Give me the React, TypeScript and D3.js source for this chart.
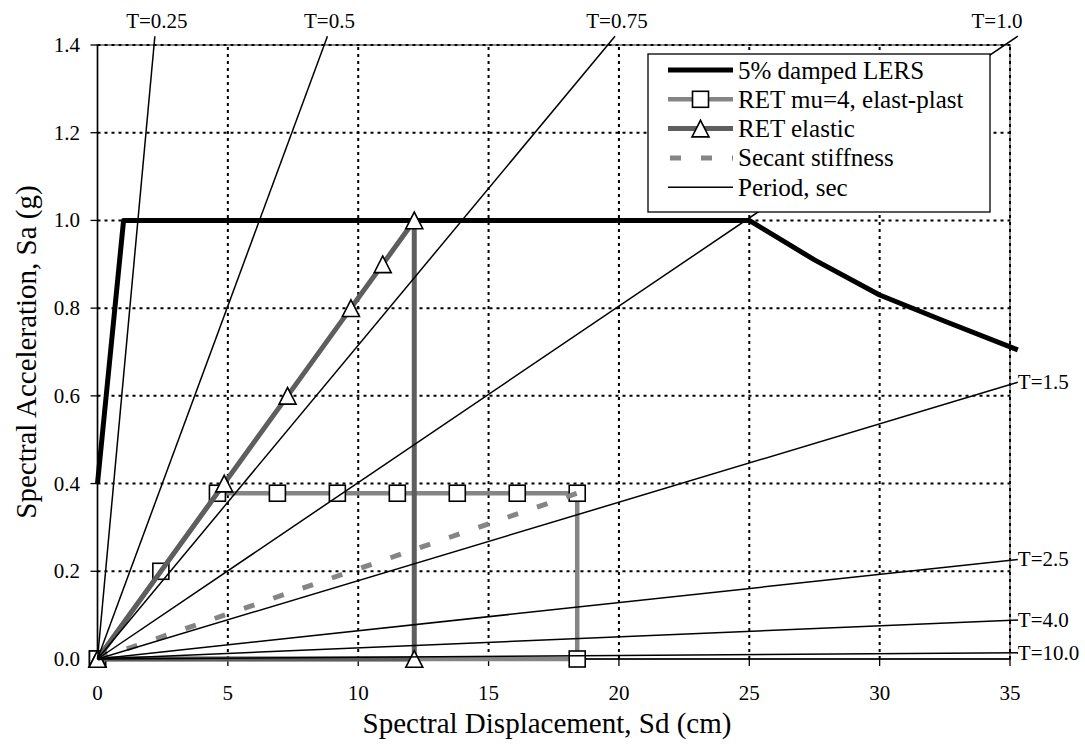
import * as d3 from "d3";

// spectral displacement (cm) / spectral acceleration (g)
const lersSd = [0, 1.0, 25, 27.5, 30, 32.5, 35.3];
const lersSa = [0.4, 1.0, 1.0, 0.91, 0.83, 0.77, 0.705];

const epSd = [0, 2.43, 4.6, 6.9, 9.2, 11.5, 13.8, 16.1, 18.4, 18.4, 0];
const epSa = [0, 0.2, 0.378, 0.378, 0.378, 0.378, 0.378, 0.378, 0.378, 0, 0];

const elSd = [0, 4.86, 7.29, 9.72, 10.94, 12.15, 12.15, 0];
const elSa = [0, 0.4, 0.6, 0.8, 0.9, 1.0, 0, 0];

const secSd = [0, 18.4];
const secSa = [0, 0.378];

const periodLabels = ["T=0.25", "T=0.5", "T=0.75", "T=1.0", "T=1.5", "T=2.5", "T=4.0", "T=10.0"];
const periodEndSd = [2.2, 8.82, 19.85, 35.3, 35.3, 35.3, 35.3, 35.3];
const periodEndSa = [1.42, 1.42, 1.42, 1.42, 0.631, 0.227, 0.089, 0.014];

const xTicks = [0, 5, 10, 15, 20, 25, 30, 35];
const yTicks = [0, 0.2, 0.4, 0.6, 0.8, 1.0, 1.2, 1.4];

const legendNames = ["5% damped LERS", "RET mu=4, elast-plast", "RET elastic", "Secant stiffness", "Period, sec"];

const W = 1085;
const H = 751;
const FONT = "'Liberation Serif', 'Times New Roman', serif";

const zip = (a: number[], b: number[]) => a.map((v, i) => [v, b[i]] as [number, number]);

export default function App() {
  const x = d3.scaleLinear().domain([0, 35]).range([97.5, 1010]);
  const y = d3.scaleLinear().domain([0, 1.4]).range([659, 45]);
  const line = d3
    .line<[number, number]>()
    .x((d) => x(d[0]))
    .y((d) => y(d[1]));

  const lers = zip(lersSd, lersSa);
  const ep = zip(epSd, epSa);
  const el = zip(elSd, elSa);
  const sec = zip(secSd, secSa);

  const sq = 16;
  const triPath = (cx: number, cy: number) =>
    `M${cx - 8.5},${cy + 8.3}L${cx + 8.5},${cy + 8.3}L${cx},${cy - 8.3}Z`;

  const [x0, x1] = x.range();
  const [y0, y1] = y.range();

  // legend geometry
  const lg = { left: 648, top: 54, right: 990, bottom: 212 };
  const rowY = (i: number) => 70 + i * 29.3;

  return (
    <div style={{ position: "absolute", left: 0, top: 0 }}>
      <svg width={W} height={H} style={{ display: "block", background: "#fff", fontFamily: FONT }}>
        {/* plot frame */}
        <rect x={x0} y={y1} width={x1 - x0} height={y0 - y1} fill="none" stroke="#8c8c8c" strokeWidth={2} />

        {/* grid */}
        {yTicks.slice(1).map((t) => (
          <line key={"gy" + t} x1={x0} x2={x1} y1={y(t)} y2={y(t)} stroke="#000" strokeWidth={2} strokeDasharray="3,4" />
        ))}
        {xTicks.slice(1).map((t) => (
          <line key={"gx" + t} x1={x(t)} x2={x(t)} y1={y0} y2={y1} stroke="#000" strokeWidth={2} strokeDasharray="3,4" />
        ))}

        {/* axes */}
        <line x1={x0} x2={x0} y1={y0} y2={y1} stroke="#000" strokeWidth={1.3} />
        <line x1={x0} x2={x1} y1={y0} y2={y0} stroke="#000" strokeWidth={1.3} />
        {yTicks.map((t) => (
          <g key={"ty" + t}>
            <line x1={x0 - 7} x2={x0} y1={y(t)} y2={y(t)} stroke="#000" strokeWidth={1.3} />
            <text x={80} y={y(t)} textAnchor="end" dominantBaseline="central" fontSize={21}>
              {t.toFixed(1)}
            </text>
          </g>
        ))}
        {xTicks.map((t) => (
          <g key={"tx" + t}>
            <line x1={x(t)} x2={x(t)} y1={y0} y2={y0 + 7} stroke="#000" strokeWidth={1.3} />
            <text x={x(t)} y={700} textAnchor="middle" fontSize={21}>
              {t}
            </text>
          </g>
        ))}
        <text x={547} y={733} textAnchor="middle" fontSize={29}>
          Spectral Displacement, Sd (cm)
        </text>
        <text transform={`translate(36,352) rotate(-90)`} textAnchor="middle" fontSize={29}>
          Spectral Acceleration, Sa (g)
        </text>

        {/* 5% damped LERS */}
        <path d={line(lers) || ""} fill="none" stroke="#000" strokeWidth={5} strokeLinejoin="round" />

        {/* RET mu=4 elastic-plastic */}
        <path d={line(ep) || ""} fill="none" stroke="#858585" strokeWidth={4.5} strokeLinejoin="round" />
        {ep.map((d, i) => (
          <rect key={"sq" + i} x={x(d[0]) - sq / 2} y={y(d[1]) - sq / 2} width={sq} height={sq} fill="#fff" stroke="#000" strokeWidth={1.6} />
        ))}

        {/* RET elastic */}
        <path d={line(el) || ""} fill="none" stroke="#5e5e5e" strokeWidth={5} strokeLinejoin="round" />
        {el.map((d, i) => (
          <path key={"tr" + i} d={triPath(x(d[0]), y(d[1]))} fill="#fff" stroke="#000" strokeWidth={1.6} />
        ))}

        {/* secant stiffness */}
        <path d={line(sec) || ""} fill="none" stroke="#858585" strokeWidth={5} strokeDasharray="11,20" />

        {/* period lines */}
        {periodLabels.map((lab, i) => {
          const ex = x(periodEndSd[i]);
          const ey = y(periodEndSa[i]);
          const top = periodEndSa[i] >= 1.4;
          return (
            <g key={lab}>
              <line x1={x(0)} y1={y(0)} x2={ex} y2={ey} stroke="#000" strokeWidth={1.5} />
              {top ? (
                <text x={Math.min(ex + 2, 997)} y={ey - 8} textAnchor="middle" fontSize={21}>
                  {lab}
                </text>
              ) : (
                <text x={ex} y={ey} textAnchor="start" dominantBaseline="central" fontSize={21}>
                  {lab}
                </text>
              )}
            </g>
          );
        })}

        {/* legend */}
        <rect x={lg.left} y={lg.top} width={lg.right - lg.left} height={lg.bottom - lg.top} fill="#fff" stroke="#000" strokeWidth={1.3} />
        {legendNames.map((name, i) => {
          const cy = rowY(i);
          const lx1 = 668;
          const lx2 = 733;
          const cx = (lx1 + lx2) / 2;
          return (
            <g key={name}>
              {i === 0 && <line x1={lx1} x2={lx2} y1={cy} y2={cy} stroke="#000" strokeWidth={5} />}
              {i === 1 && (
                <>
                  <line x1={lx1} x2={lx2} y1={cy} y2={cy} stroke="#858585" strokeWidth={4.5} />
                  <rect x={cx - sq / 2} y={cy - sq / 2} width={sq} height={sq} fill="#fff" stroke="#000" strokeWidth={1.6} />
                </>
              )}
              {i === 2 && (
                <>
                  <line x1={lx1} x2={lx2} y1={cy} y2={cy} stroke="#5e5e5e" strokeWidth={5} />
                  <path d={triPath(cx, cy)} fill="#fff" stroke="#000" strokeWidth={1.6} />
                </>
              )}
              {i === 3 && <line x1={lx1 + 2} x2={lx2} y1={cy} y2={cy} stroke="#858585" strokeWidth={5} strokeDasharray="11,20" />}
              {i === 4 && <line x1={lx1} x2={lx2} y1={cy} y2={cy} stroke="#000" strokeWidth={1.5} />}
              <text x={738} y={cy} dominantBaseline="central" fontSize={25}>
                {name}
              </text>
            </g>
          );
        })}
      </svg>
    </div>
  );
}
